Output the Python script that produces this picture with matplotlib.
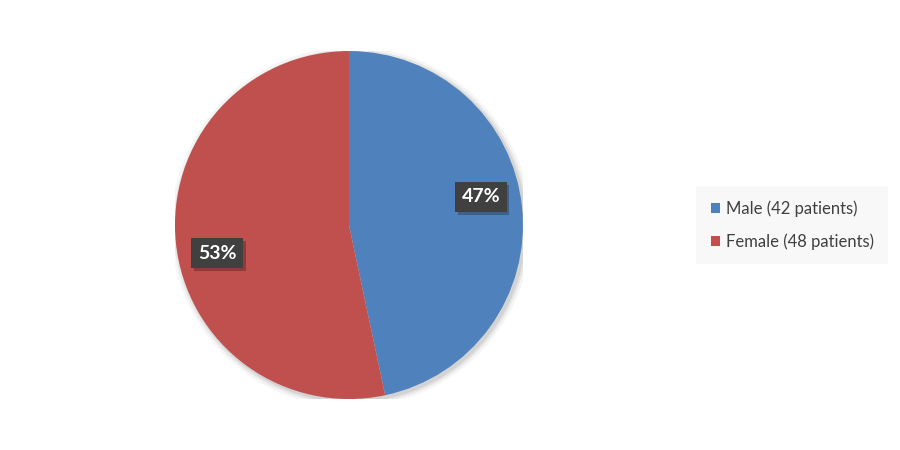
import numpy as np
import matplotlib.pyplot as plt
import matplotlib.patheffects as pe
from matplotlib.patches import Circle

# Data
labels = ["Male (42 patients)", "Female (48 patients)"]
counts = [42, 48]
colors = ["#4f81bd", "#c0504d"]

plt.rcParams['font.family'] = ['Lato', 'DejaVu Sans']

fig = plt.figure(figsize=(9, 4.5), dpi=100)
ax = fig.add_axes([0.1944, 0.1133, 0.3867, 0.7733])

# soft shadow behind the pie
for r, a in [(1.035, 0.04), (1.02, 0.06), (1.008, 0.08)]:
    ax.add_patch(Circle((0.012, -0.012), r, color="black", alpha=a, lw=0, zorder=0))

wedges, _ = ax.pie(counts, colors=colors, startangle=90, counterclock=False,
                   radius=1, wedgeprops=dict(linewidth=0))
for w in wedges:
    w.set_zorder(1)

# percent labels
total = sum(counts)
for w, c in zip(wedges, counts):
    ang = np.deg2rad((w.theta1 + w.theta2) / 2 + 6)
    d = 0.775
    t = ax.text(d * np.cos(ang), d * np.sin(ang), f"{round(100 * c / total)}%",
                ha="center", va="center", color="white", fontsize=14,
                fontweight="bold", zorder=5,
                bbox=dict(boxstyle="square,pad=0.33", fc="#404040", ec="none"))
    t.get_bbox_patch().set_path_effects([
        pe.SimplePatchShadow(offset=(2, -2), shadow_rgbFace="black", alpha=0.25),
        pe.Normal()])

ax.set_xlim(-1, 1)
ax.set_ylim(-1, 1)
ax.set_aspect("equal")
ax.axis("off")

leg = fig.legend(wedges, labels, loc="center", bbox_to_anchor=(0.88, 0.5),
                 frameon=True, fontsize=12, handlelength=0.55, handleheight=0.55,
                 handletextpad=0.35, labelspacing=1.0, borderpad=0.55,
                 labelcolor="#404040")
leg.get_frame().set_facecolor("#f7f7f7")
leg.get_frame().set_edgecolor("none")
leg.get_frame().set_boxstyle("square")

fig.savefig("out.png", dpi=100)
